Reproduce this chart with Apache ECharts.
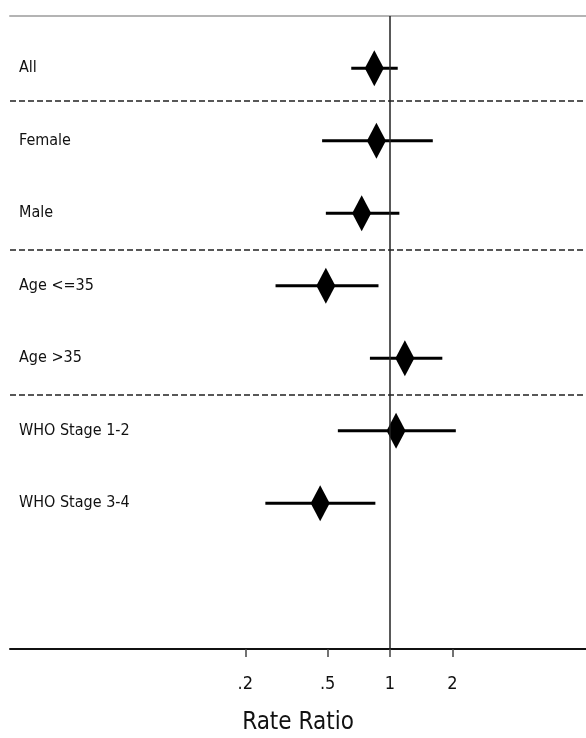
<!DOCTYPE html>
<html>
<head>
<meta charset="utf-8">
<script src="https://cdn.jsdelivr.net/npm/echarts@6/dist/echarts.min.js"></script>
<style>
html,body{margin:0;padding:0;background:#fff;}
#chart{width:586px;height:738px;}
</style>
</head>
<body>
<div id="chart"></div>
<script>
const categories = ['All', 'Female', 'Male', 'Age <=35', 'Age >35', 'WHO Stage 1-2', 'WHO Stage 3-4'];
const estimates = [0.84, 0.86, 0.73, 0.49, 1.18, 1.07, 0.46];
const lowerCI   = [0.65, 0.47, 0.49, 0.28, 0.80, 0.56, 0.25];
const upperCI   = [1.09, 1.61, 1.11, 0.88, 1.79, 2.08, 0.85];
const xTicks = [0.2, 0.5, 1, 2];
const xTickLabels = ['.2', '.5', '1', '2'];
const separators = [1.45, 3.5, 5.5];
const refValue = 1;

const FONT = '"Liberation Sans Narrow", "DejaVu Sans Condensed", "Liberation Sans", sans-serif';
const X_MIN = 0.0146, X_MAX = 8.85;

const chart = echarts.init(document.getElementById('chart'), null, {renderer: 'canvas'});

const ciData = categories.map((c, i) => [lowerCI[i], upperCI[i], i + 1]);
const ptData = categories.map((c, i) => [estimates[i], i + 1]);

chart.setOption({
  animation: false,
  backgroundColor: '#fff',
  grid: {left: 10, right: 0, top: 16, bottom: 89, containLabel: false, outerBoundsMode: 'none'},
  xAxis: [{
    type: 'log',
    logBase: 10,
    min: X_MIN,
    max: X_MAX,
    position: 'bottom',
    axisLine: {show: true, lineStyle: {color: '#111', width: 2}},
    axisTick: {show: true, customValues: xTicks, length: 8, lineStyle: {color: '#444', width: 1.5}},
    axisLabel: {
      show: true, customValues: xTicks, margin: 26,
      fontFamily: FONT, fontSize: 18, color: '#111',
      formatter: v => { const k = xTicks.findIndex(t => Math.abs(t - v) < 1e-9); return k >= 0 ? xTickLabels[k] : ''; }
    },
    splitLine: {show: false},
    minorTick: {show: false},
    name: 'Rate Ratio',
    nameLocation: 'middle',
    nameGap: 62,
    nameTextStyle: {fontFamily: FONT, fontSize: 24, color: '#111'}
  }, {
    type: 'log',
    logBase: 10,
    min: X_MIN,
    max: X_MAX,
    position: 'top',
    axisLine: {show: true, lineStyle: {color: '#b4b4b4', width: 2}},
    axisTick: {show: false},
    axisLabel: {show: false},
    splitLine: {show: false}
  }],
  yAxis: {
    type: 'value',
    inverse: true,
    min: 0.28,
    max: 9.01,
    axisLine: {show: false},
    axisTick: {show: false},
    splitLine: {show: false},
    axisLabel: {
      show: true, inside: true, margin: 9, customValues: categories.map((c, i) => i + 1),
      fontFamily: FONT, fontSize: 16, color: '#111',
      formatter: v => categories[Math.round(v) - 1] || ''
    }
  },
  series: [{
    type: 'custom',
    xAxisIndex: 0,
    encode: {x: [0, 1], y: 2},
    data: ciData,
    renderItem: (params, api) => {
      const a = api.coord([api.value(0), api.value(2)]);
      const b = api.coord([api.value(1), api.value(2)]);
      return {type: 'line', shape: {x1: a[0], y1: a[1], x2: b[0], y2: b[1]},
        style: {stroke: '#000', lineWidth: 3}};
    },
    markLine: {
      silent: true, symbol: 'none', label: {show: false},
      data: separators.map(s => ({yAxis: s, lineStyle: {type: [6, 3], color: '#222', width: 1.5}}))
        .concat([{xAxis: refValue, lineStyle: {type: 'solid', color: '#222', width: 1.5}}])
    },
    z: 3
  }, {
    type: 'scatter',
    xAxisIndex: 0,
    data: ptData,
    symbol: 'diamond',
    symbolSize: [19, 36],
    itemStyle: {color: '#000', opacity: 1},
    z: 4
  }]
});
</script>
</body>
</html>
